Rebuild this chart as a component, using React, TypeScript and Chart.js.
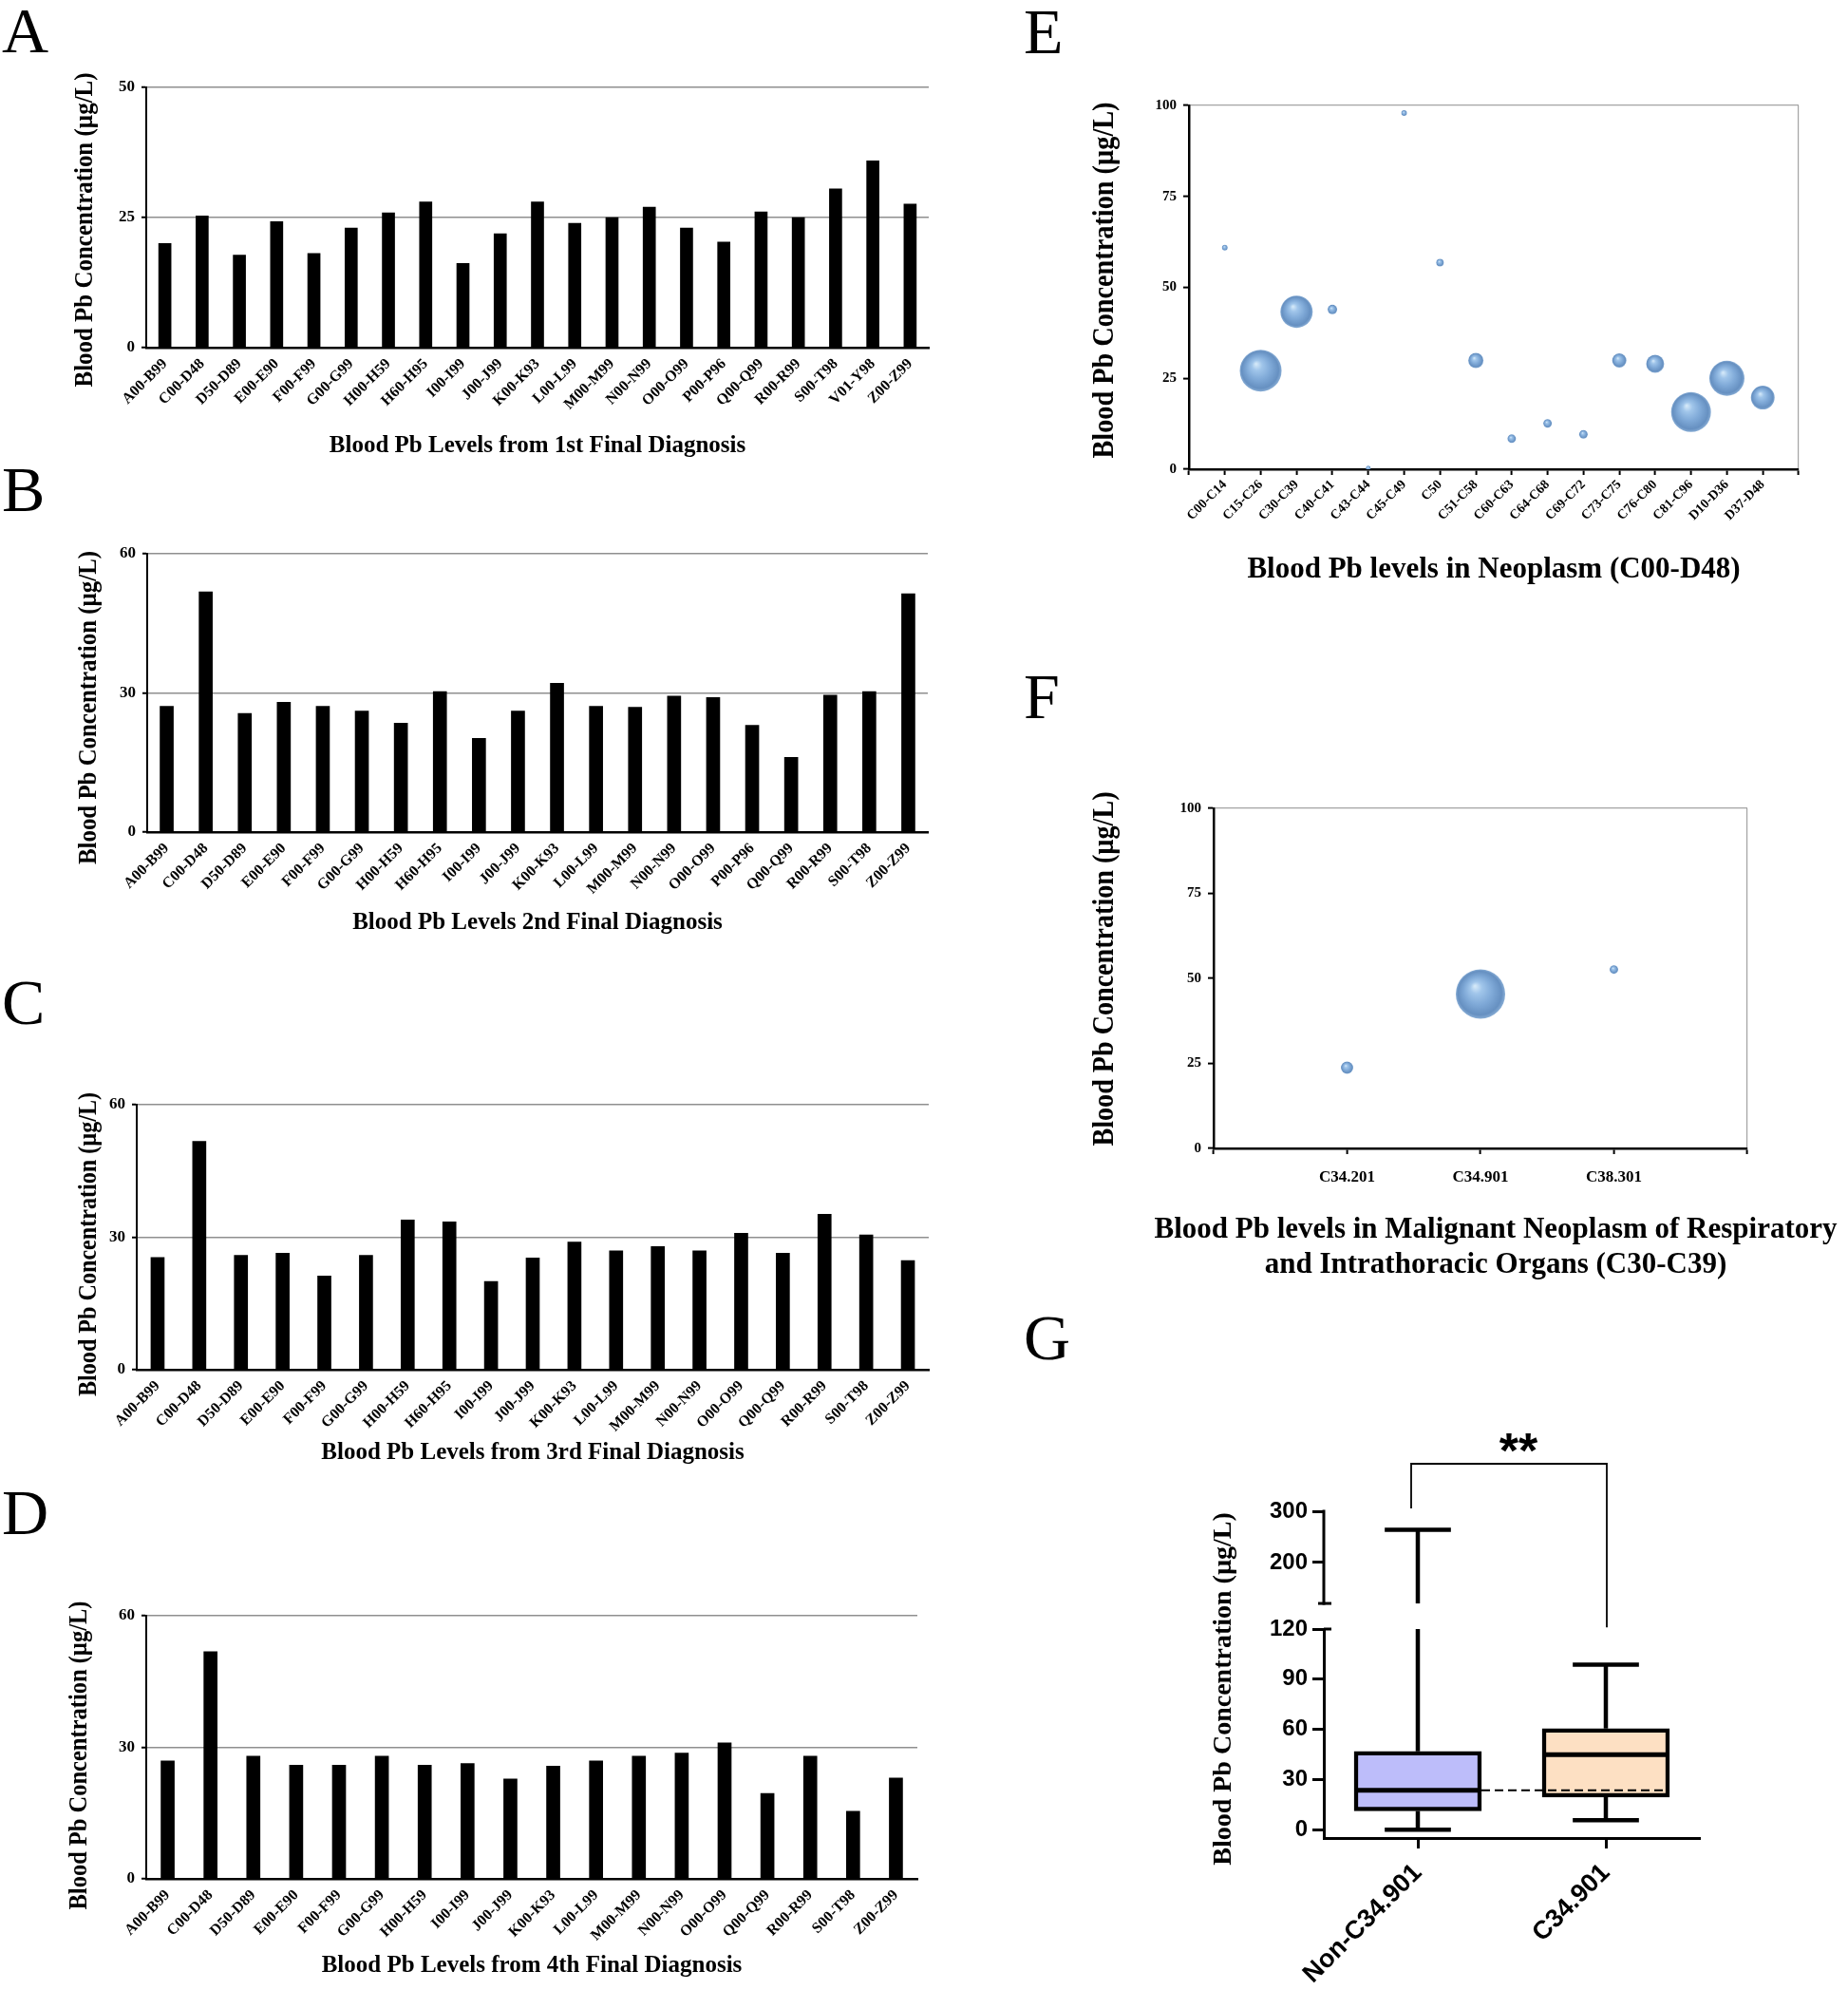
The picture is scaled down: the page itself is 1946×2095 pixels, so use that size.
import React, { useEffect, useRef } from 'react';
import { Chart, registerables } from 'chart.js';

Chart.register(...registerables);

const SERIF = "'Liberation Serif', 'Times New Roman', Times, serif";
const SANS = "'Liberation Sans', Arial, Helvetica, sans-serif";
Chart.defaults.font.family = SERIF;
Chart.defaults.color = '#000';

// ---------------- data ----------------
const Y_TITLE = 'Blood Pb Concentration (µg/L)';

const catsA = ['A00-B99', 'C00-D48', 'D50-D89', 'E00-E90', 'F00-F99', 'G00-G99', 'H00-H59', 'H60-H95', 'I00-I99', 'J00-J99', 'K00-K93', 'L00-L99', 'M00-M99', 'N00-N99', 'O00-O99', 'P00-P96', 'Q00-Q99', 'R00-R99', 'S00-T98', 'V01-Y98', 'Z00-Z99'];
const valsA = [20.0, 25.3, 17.8, 24.2, 18.1, 23.0, 25.9, 28.0, 16.2, 21.9, 28.0, 23.9, 25.0, 27.0, 23.0, 20.3, 26.1, 25.0, 30.5, 35.9, 27.6];
const ticksA = [0, 25, 50];
const titleA = 'Blood Pb Levels from 1st Final Diagnosis';

const catsB = ['A00-B99', 'C00-D48', 'D50-D89', 'E00-E90', 'F00-F99', 'G00-G99', 'H00-H59', 'H60-H95', 'I00-I99', 'J00-J99', 'K00-K93', 'L00-L99', 'M00-M99', 'N00-N99', 'O00-O99', 'P00-P96', 'Q00-Q99', 'R00-R99', 'S00-T98', 'Z00-Z99'];
const valsB = [27.1, 51.8, 25.6, 28.0, 27.1, 26.1, 23.5, 30.3, 20.2, 26.1, 32.1, 27.1, 26.9, 29.3, 29.0, 23.0, 16.1, 29.5, 30.3, 51.4];
const ticksB = [0, 30, 60];
const titleB = 'Blood Pb Levels 2nd Final Diagnosis';

const catsC = ['A00-B99', 'C00-D48', 'D50-D89', 'E00-E90', 'F00-F99', 'G00-G99', 'H00-H59', 'H60-H95', 'I00-I99', 'J00-J99', 'K00-K93', 'L00-L99', 'M00-M99', 'N00-N99', 'O00-O99', 'Q00-Q99', 'R00-R99', 'S00-T98', 'Z00-Z99'];
const valsC = [25.4, 51.7, 25.9, 26.4, 21.2, 25.9, 33.9, 33.5, 20.0, 25.3, 28.9, 26.9, 27.9, 26.9, 30.9, 26.4, 35.2, 30.5, 24.7];
const ticksC = [0, 30, 60];
const titleC = 'Blood Pb Levels from 3rd Final Diagnosis';

const catsD = ['A00-B99', 'C00-D48', 'D50-D89', 'E00-E90', 'F00-F99', 'G00-G99', 'H00-H59', 'I00-I99', 'J00-J99', 'K00-K93', 'L00-L99', 'M00-M99', 'N00-N99', 'O00-O99', 'Q00-Q99', 'R00-R99', 'S00-T98', 'Z00-Z99'];
const valsD = [26.9, 51.8, 28.0, 25.9, 25.9, 28.0, 25.9, 26.3, 22.8, 25.7, 26.9, 28.0, 28.7, 31.0, 19.5, 28.0, 15.4, 23.0];
const ticksD = [0, 30, 60];
const titleD = 'Blood Pb Levels from 4th Final Diagnosis';

const catsE = ['C00-C14', 'C15-C26', 'C30-C39', 'C40-C41', 'C43-C44', 'C45-C49', 'C50', 'C51-C58', 'C60-C63', 'C64-C68', 'C69-C72', 'C73-C75', 'C76-C80', 'C81-C96', 'D10-D36', 'D37-D48'];
const valsE = [60.9, 27.1, 43.3, 43.9, 0.3, 97.9, 56.8, 29.9, 8.4, 12.6, 9.6, 29.9, 29.0, 15.7, 25.0, 19.7];
const sizesE = [3, 22, 17, 5, 2.5, 3, 4, 8, 4.5, 4.5, 4.5, 7.5, 9.5, 21, 18.5, 12.5];
const ticksE = [0, 25, 50, 75, 100];
const titleE = 'Blood Pb levels in Neoplasm (C00-D48)';

const catsF = ['C34.201', 'C34.901', 'C38.301'];
const valsF = [23.75, 45.4, 52.6];
const sizesF = [6.5, 26, 4.5];
const ticksF = [0, 25, 50, 75, 100];
const titleF = ['Blood Pb levels in Malignant Neoplasm of Respiratory', 'and Intrathoracic Organs (C30-C39)'];

const groupsG = ['Non-C34.901', 'C34.901'];
const minG = [0, 5.7];
const q1G = [11.2, 19.5];
const medG = [23.6, 44.9];
const q3G = [46.8, 60.5];
const maxG = [264, 98.7];
const ticksGLow = [0, 30, 60, 90, 120];
const ticksGHigh = [200, 300];
const breakG = 120;
const sigG = '**';

const panelLetters = ['A', 'B', 'C', 'D', 'E', 'F', 'G'];

// ---------------- layout (page pixels) ----------------
const letterPos = [
  { left: 2, top: -2 }, { left: 2, top: 481 }, { left: 2, top: 1021 }, { left: 2, top: 1558 },
  { left: 1078, top: -1 }, { left: 1078, top: 699 }, { left: 1078, top: 1374 },
];

// yT: y-title centre (x, y), length and font size
const layoutA = { box: { left: 0, top: 62, width: 1000, height: 423 }, area: { l: 154, r: 978, t: 92, b: 366 }, yT: { x: 90, y: 242, len: 331, size: 27 }, barW: 13 };
const layoutB = { box: { left: 0, top: 560, width: 1000, height: 427 }, area: { l: 155, r: 977, t: 583, b: 876 }, yT: { x: 94, y: 745, len: 330, size: 27 }, barW: 14 };
const layoutC = { box: { left: 0, top: 1130, width: 1000, height: 415 }, area: { l: 144, r: 978, t: 1163, b: 1442 }, yT: { x: 94, y: 1310, len: 320, size: 27 }, barW: 14 };
const layoutD = { box: { left: 0, top: 1660, width: 1000, height: 425 }, area: { l: 154, r: 966, t: 1701, b: 1978 }, yT: { x: 84, y: 1848, len: 325, size: 27 }, barW: 14 };
const layoutE = { box: { left: 1060, top: 80, width: 886, height: 539 }, area: { l: 1252, r: 1894, t: 111, b: 494 }, yT: { x: 1164, y: 295, len: 375, size: 31 } };
const layoutF = { box: { left: 1060, top: 820, width: 886, height: 529 }, area: { l: 1278, r: 1840, t: 851, b: 1209 }, yT: { x: 1164, y: 1020, len: 373, size: 31 } };
const layoutG = { box: { left: 1240, top: 1480, width: 620, height: 615 }, area: { l: 1394, r: 1790, t: 1591, b: 1935 }, yT: { x: 1289, y: 1778, len: 372, size: 28 } };

const TRANSPARENT = 'rgba(0,0,0,0)';
const GRID_GRAY = '#8f8f8f';

function basePadding(layout) {
  const { box, area } = layout;
  return { left: 0, top: area.t - box.top, right: box.left + box.width - area.r, bottom: 0 };
}

// vertical axis title, drawn as real canvas text (slightly condensed like the original)
const yTitlePlugin = {
  id: 'yTitleText',
  afterDraw(chart, _args, opts) {
    const ctx = chart.ctx;
    ctx.save();
    ctx.translate(opts.x, opts.y);
    ctx.rotate(-Math.PI / 2);
    ctx.font = `bold ${opts.size}px ${SERIF}`;
    ctx.fillStyle = '#000';
    ctx.textAlign = 'center';
    ctx.textBaseline = 'middle';
    ctx.fillText(opts.text, 0, 0, opts.len);
    ctx.restore();
  },
};

function yTitleOpts(layout) {
  const { box, yT } = layout;
  return { text: Y_TITLE, x: yT.x - box.left, y: yT.y - box.top, len: yT.len, size: yT.size };
}

// ---------------- bar panels A-D ----------------
function barConfig(labels, values, ticks, title, layout) {
  const { box, area, barW } = layout;
  const yMax = ticks[ticks.length - 1];
  return {
    type: 'bar',
    data: { labels, datasets: [{ data: values, backgroundColor: '#000', borderWidth: 0, barThickness: barW }] },
    plugins: [yTitlePlugin],
    options: {
      animation: false, responsive: false, devicePixelRatio: 1, events: [],
      layout: { padding: basePadding(layout) },
      plugins: { legend: { display: false }, tooltip: { enabled: false }, yTitleText: yTitleOpts(layout) },
      scales: {
        x: {
          grid: { display: false, drawTicks: false },
          border: { display: true, color: '#000', width: 2.5 },
          ticks: { autoSkip: false, minRotation: 45, maxRotation: 45, padding: 8, color: '#000', font: { family: SERIF, size: 16, weight: 'bold' } },
          title: { display: true, text: title, color: '#000', font: { family: SERIF, size: 25, weight: 'bold' }, padding: 0 },
          afterFit: (s) => { s.height = box.top + box.height - area.b; s.paddingLeft = 0; s.paddingRight = 0; },
        },
        y: {
          min: 0, max: yMax,
          afterBuildTicks: (s) => { s.ticks = ticks.map((v) => ({ value: v })); },
          ticks: { padding: 7, color: '#000', font: { family: SERIF, size: 17, weight: 'bold' } },
          grid: { color: (c) => (c.tick && c.tick.value === 0 ? TRANSPARENT : GRID_GRAY), lineWidth: 1.5, tickLength: 5, tickColor: '#000', tickWidth: 2 },
          border: { display: true, color: '#000', width: 2 },
          title: { display: false },
          afterFit: (s) => { s.width = area.l - box.left; s.paddingTop = 0; s.paddingBottom = 0; },
        },
      },
    },
  };
}

// ---------------- bubble panels E-F ----------------
function sphereFill(c) {
  const chart = c.chart;
  const raw = c.raw;
  if (!raw || !chart.chartArea || !chart.scales.x) return '#7fa9d6';
  const x = chart.scales.x.getPixelForValue(raw.x);
  const y = chart.scales.y.getPixelForValue(raw.y);
  const r = Math.max(raw.r, 1);
  const g = chart.ctx.createRadialGradient(x - r * 0.22, y - r * 0.32, r * 0.03, x, y, r);
  g.addColorStop(0, '#d2e7f8');
  g.addColorStop(0.22, '#a0c5ea');
  g.addColorStop(0.55, '#80aad8');
  g.addColorStop(0.88, '#6690c1');
  g.addColorStop(1, '#88add5');
  return g;
}

function bubbleConfig(cats, vals, sizes, yTicks, layout, opts) {
  const { box, area } = layout;
  const xMax = cats.length + 1;
  const yMax = yTicks[yTicks.length - 1];
  const plugins = opts.extraPlugin ? [yTitlePlugin, opts.extraPlugin] : [yTitlePlugin];
  return {
    type: 'bubble',
    data: { datasets: [{ data: cats.map((c, i) => ({ x: i + 1, y: vals[i], r: sizes[i] })), backgroundColor: sphereFill, borderWidth: 0 }] },
    plugins,
    options: {
      animation: false, responsive: false, devicePixelRatio: 1, events: [],
      layout: { padding: basePadding(layout) },
      plugins: { legend: { display: false }, tooltip: { enabled: false }, yTitleText: yTitleOpts(layout) },
      scales: {
        x: {
          type: 'linear', min: 0, max: xMax,
          afterBuildTicks: (s) => { s.ticks = Array.from({ length: xMax + 1 }, (_, i) => ({ value: i })); },
          ticks: {
            autoSkip: false, minRotation: opts.rotate, maxRotation: opts.rotate, padding: opts.xPad, color: '#000',
            callback: (v) => (cats[v - 1] !== undefined ? cats[v - 1] : ''),
            font: { family: SERIF, size: opts.xFont, weight: 'bold' },
          },
          grid: { color: (c) => (c.tick && c.tick.value === xMax ? '#a3a3a3' : TRANSPARENT), lineWidth: 1.2, tickLength: 6, tickColor: '#000', tickWidth: 2 },
          border: { display: true, color: '#000', width: 2.5 },
          title: opts.xTitle
            ? { display: true, text: opts.xTitle, color: '#000', font: { family: SERIF, size: 31, weight: 'bold' }, padding: 0 }
            : { display: false },
          afterFit: (s) => { s.height = box.top + box.height - area.b; s.paddingLeft = 0; s.paddingRight = 0; },
        },
        y: {
          min: 0, max: yMax,
          afterBuildTicks: (s) => { s.ticks = yTicks.map((v) => ({ value: v })); },
          ticks: { padding: 7, color: '#000', font: { family: SERIF, size: 15, weight: 'bold' } },
          grid: { color: (c) => (c.tick && c.tick.value === yMax ? '#a3a3a3' : TRANSPARENT), lineWidth: 1.2, tickLength: 6, tickColor: '#000', tickWidth: 2 },
          border: { display: true, color: '#000', width: 2.5 },
          title: { display: false },
          afterFit: (s) => { s.width = area.l - box.left; s.paddingTop = 0; s.paddingBottom = 0; },
        },
      },
    },
  };
}

const fTitlePlugin = {
  id: 'fTitle',
  afterDraw(chart) {
    const { ctx, chartArea } = chart;
    ctx.save();
    ctx.font = `bold 31px ${SERIF}`;
    ctx.fillStyle = '#000';
    ctx.textAlign = 'center';
    ctx.textBaseline = 'middle';
    const cx = (chartArea.left + chartArea.right) / 2 + 16;
    titleF.forEach((line, i) => ctx.fillText(line, cx, chartArea.bottom + 86 + i * 37));
    ctx.restore();
  },
};

// ---------------- box plot G ----------------
function seg(ctx, x1, y1, x2, y2) {
  ctx.beginPath();
  ctx.moveTo(x1, y1);
  ctx.lineTo(x2, y2);
  ctx.stroke();
}

const gPlugin = {
  id: 'gBox',
  afterDatasetsDraw(chart) {
    const { ctx } = chart;
    const ys = chart.scales.y;
    const yt = chart.scales.yTop;
    const meta = chart.getDatasetMeta(0);
    const py = (v) => (v <= breakG ? ys.getPixelForValue(v) : yt.getPixelForValue(v));
    ctx.save();
    ctx.strokeStyle = '#000';
    ctx.lineCap = 'butt';
    groupsG.forEach((_, i) => {
      const bar = meta.data[i];
      const cx = bar.x;
      const half = bar.width / 2;
      ctx.lineWidth = 5;
      seg(ctx, cx - half + 2, py(medG[i]), cx + half - 2, py(medG[i]));
      ctx.lineWidth = 4.5;
      if (maxG[i] > breakG) {
        seg(ctx, cx, py(q3G[i]), cx, ys.getPixelForValue(breakG));
        seg(ctx, cx, yt.getPixelForValue(breakG), cx, py(maxG[i]));
      } else {
        seg(ctx, cx, py(q3G[i]), cx, py(maxG[i]));
      }
      seg(ctx, cx, py(q1G[i]), cx, py(minG[i]));
      const capHalf = half * 0.52;
      seg(ctx, cx - capHalf, py(maxG[i]), cx + capHalf, py(maxG[i]));
      seg(ctx, cx - capHalf, py(minG[i]), cx + capHalf, py(minG[i]));
    });
    // dashed reference line at the Non-C34.901 median
    const b0 = meta.data[0];
    const b1 = meta.data[1];
    ctx.lineWidth = 2;
    ctx.setLineDash([9, 5]);
    seg(ctx, b0.x + b0.width / 2, py(medG[0]), b1.x + b1.width / 2 - 5, py(medG[0]));
    ctx.setLineDash([]);
    ctx.restore();
  },
  afterDraw(chart) {
    const { ctx, chartArea } = chart;
    const xs = chart.scales.x;
    const ys = chart.scales.y;
    const yt = chart.scales.yTop;
    const xl = chartArea.left;
    ctx.save();
    ctx.strokeStyle = '#000';
    ctx.fillStyle = '#000';
    // upper axis segment + break marks
    ctx.lineWidth = 3;
    seg(ctx, xl, yt.getPixelForValue(breakG) + 1.5, xl, yt.getPixelForValue(yt.max) - 1.5);
    seg(ctx, xl - 6, yt.getPixelForValue(breakG), xl + 8, yt.getPixelForValue(breakG));
    seg(ctx, xl, ys.getPixelForValue(breakG), xl + 8, ys.getPixelForValue(breakG));
    // significance bracket
    const lx = xs.getPixelForValue(0) - 7;
    const rx = xs.getPixelForValue(1) + 1;
    const topY = chartArea.top - 50;
    ctx.lineWidth = 1.8;
    ctx.beginPath();
    ctx.moveTo(lx, chartArea.top - 3);
    ctx.lineTo(lx, topY);
    ctx.lineTo(rx, topY);
    ctx.lineTo(rx, ys.getPixelForValue(121));
    ctx.stroke();
    ctx.font = `bold 52px ${SANS}`;
    ctx.textAlign = 'center';
    ctx.textBaseline = 'alphabetic';
    ctx.fillText(sigG, (lx + rx) / 2 + 10, topY + 4);
    ctx.restore();
  },
};

function boxConfig(layout) {
  const { box, area } = layout;
  const ySpanLow = 220;
  const ySpanHigh = 124;
  const tickFont = { family: SANS, size: 24, weight: 'bold' };
  return {
    type: 'bar',
    data: {
      labels: groupsG,
      datasets: [{
        data: groupsG.map((_, i) => [q1G[i], q3G[i]]),
        backgroundColor: ['#bdbdfa', '#fde0c3'],
        borderColor: '#000', borderWidth: 4.5, borderSkipped: false, barThickness: 134,
        xAxisID: 'x', yAxisID: 'y',
      }],
    },
    plugins: [gPlugin, yTitlePlugin],
    options: {
      animation: false, responsive: false, devicePixelRatio: 1, events: [],
      layout: { padding: basePadding(layout) },
      plugins: { legend: { display: false }, tooltip: { enabled: false }, yTitleText: yTitleOpts(layout) },
      scales: {
        x: {
          type: 'category', offset: true,
          grid: { display: true, drawOnChartArea: false, offset: false, tickLength: 11, tickWidth: 3, tickColor: '#000', color: '#000' },
          border: { display: true, color: '#000', width: 3 },
          ticks: { autoSkip: false, minRotation: 45, maxRotation: 45, padding: 10, color: '#000', font: { family: SANS, size: 27, weight: 'bold' } },
          afterFit: (s) => { s.height = box.top + box.height - area.b; s.paddingLeft = 0; s.paddingRight = 0; },
        },
        yTop: {
          type: 'linear', position: 'left', stack: 'g', stackWeight: ySpanHigh, weight: 1,
          min: 70, max: 300,
          afterBuildTicks: (s) => { s.ticks = ticksGHigh.map((v) => ({ value: v })); },
          ticks: { padding: 5, color: '#000', font: tickFont },
          grid: { drawOnChartArea: false, tickLength: 12, tickWidth: 3, tickColor: '#000', color: '#000' },
          border: { display: false },
          afterFit: (s) => { s.width = area.l - box.left; s.paddingTop = 0; s.paddingBottom = 0; },
        },
        y: {
          type: 'linear', position: 'left', stack: 'g', stackWeight: ySpanLow, weight: 0,
          min: -5, max: breakG,
          afterBuildTicks: (s) => { s.ticks = ticksGLow.map((v) => ({ value: v })); },
          ticks: { padding: 5, color: '#000', font: tickFont },
          grid: { drawOnChartArea: false, tickLength: 12, tickWidth: 3, tickColor: '#000', color: '#000' },
          border: { display: true, color: '#000', width: 3 },
          afterFit: (s) => { s.width = area.l - box.left; s.paddingTop = 0; s.paddingBottom = 0; },
        },
      },
    },
  };
}

// ---------------- components ----------------
function ChartCanvas({ layout, make }) {
  const ref = useRef(null);
  useEffect(() => {
    const chart = new Chart(ref.current, make());
    return () => chart.destroy();
  }, []);
  const { box } = layout;
  return (
    <canvas
      ref={ref}
      width={box.width}
      height={box.height}
      style={{ position: 'absolute', left: box.left, top: box.top, width: box.width, height: box.height }}
    />
  );
}

export default function App() {
  return (
    <div style={{ position: 'absolute', left: 0, top: 0, width: 1946, height: 2095, background: '#fff', overflow: 'hidden' }}>
      <ChartCanvas layout={layoutA} make={() => barConfig(catsA, valsA, ticksA, titleA, layoutA)} />
      <ChartCanvas layout={layoutB} make={() => barConfig(catsB, valsB, ticksB, titleB, layoutB)} />
      <ChartCanvas layout={layoutC} make={() => barConfig(catsC, valsC, ticksC, titleC, layoutC)} />
      <ChartCanvas layout={layoutD} make={() => barConfig(catsD, valsD, ticksD, titleD, layoutD)} />
      <ChartCanvas layout={layoutE} make={() => bubbleConfig(catsE, valsE, sizesE, ticksE, layoutE, { rotate: 45, xPad: 2, xFont: 14, xTitle: titleE })} />
      <ChartCanvas layout={layoutF} make={() => bubbleConfig(catsF, valsF, sizesF, ticksF, layoutF, { rotate: 0, xPad: 14, xFont: 17, xTitle: null, extraPlugin: fTitlePlugin })} />
      <ChartCanvas layout={layoutG} make={() => boxConfig(layoutG)} />
      {panelLetters.map((L, i) => (
        <div
          key={L}
          style={{ position: 'absolute', left: letterPos[i].left, top: letterPos[i].top, fontFamily: SERIF, fontSize: 68, lineHeight: '68px', color: '#000' }}
        >
          {L}
        </div>
      ))}
    </div>
  );
}
